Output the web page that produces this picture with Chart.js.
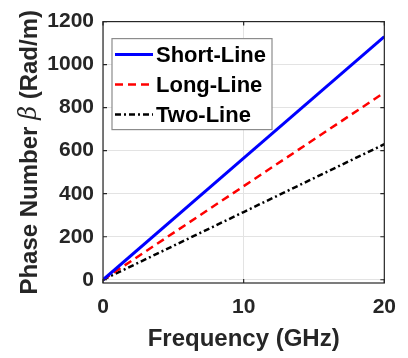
<!DOCTYPE html>
<html><head><meta charset="utf-8">
<script src="https://cdn.jsdelivr.net/npm/chart.js@4"></script>
<style>html,body{margin:0;padding:0;background:#fff}canvas{display:block}</style>
</head><body>
<canvas id="c" width="408" height="358"></canvas>
<script>
const frequencyGHz = [0, 10, 20];
const shortLine = [0, 565, 1130];
const longLine = [0, 435, 870];
const twoLine = [0, 315, 630];
const seriesLabels = ['Short-Line', 'Long-Line', 'Two-Line'];
const yTicks = [0, 200, 400, 600, 800, 1000, 1200];
const xTicks = [0, 10, 20];
const xTitle = 'Frequency (GHz)';
const yTitleParts = ['Phase Number ', 'β', ' (Rad/m)'];

const TXT = '#262626';
const FONT = '"Liberation Sans", Arial, sans-serif';
const toXY = ys => frequencyGHz.map((f, i) => ({x: f, y: ys[i]}));

const boxPlugin = {
  id: 'box',
  afterDatasetsDraw(chart) {
    const {ctx, chartArea: a, scales} = chart;
    ctx.save();
    ctx.strokeStyle = TXT; ctx.lineWidth = 1.2;
    ctx.strokeRect(a.left, a.top, a.right - a.left, a.bottom - a.top);
    const L = 4;
    ctx.beginPath();
    xTicks.forEach(v => { const x = scales.x.getPixelForValue(v);
      ctx.moveTo(x, a.bottom); ctx.lineTo(x, a.bottom - L);
      ctx.moveTo(x, a.top); ctx.lineTo(x, a.top + L); });
    yTicks.forEach(v => { const y = scales.y.getPixelForValue(v);
      ctx.moveTo(a.left, y); ctx.lineTo(a.left + L, y);
      ctx.moveTo(a.right, y); ctx.lineTo(a.right - L, y); });
    ctx.stroke();
    ctx.restore();
  },
  afterDraw(chart) {
    const {ctx, chartArea: a} = chart;
    // legend
    ctx.save();
    const bx = a.left + 9, by = a.top + 17, bw = 160, bh = 91;
    ctx.fillStyle = '#fff'; ctx.fillRect(bx, by, bw, bh);
    ctx.strokeStyle = '#8c8c8c'; ctx.lineWidth = 1.2; ctx.strokeRect(bx, by, bw, bh);
    chart.data.datasets.forEach((ds, i) => {
      const y = by + 16 + i * 30;
      ctx.strokeStyle = ds.borderColor; ctx.lineWidth = ds.borderWidth;
      ctx.setLineDash(ds.borderDash || []);
      ctx.beginPath(); ctx.moveTo(bx + 3, y); ctx.lineTo(bx + 41, y); ctx.stroke();
      ctx.setLineDash([]);
      ctx.fillStyle = '#000'; ctx.font = 'bold 22px ' + FONT;
      ctx.textBaseline = 'middle'; ctx.textAlign = 'left';
      ctx.fillText(ds.label, bx + 44, y + 1);
    });
    ctx.restore();
    // y title
    ctx.save();
    const fonts = ['bold 24px ' + FONT, 'italic 24px "DejaVu Serif", serif', 'bold 24px ' + FONT];
    let total = 0;
    const widths = yTitleParts.map((t, i) => { ctx.font = fonts[i]; const w = ctx.measureText(t).width; total += w; return w; });
    ctx.translate(30, (a.top + a.bottom) / 2);
    ctx.rotate(-Math.PI / 2);
    ctx.fillStyle = TXT; ctx.textBaseline = 'middle'; ctx.textAlign = 'left';
    let x = -total / 2;
    yTitleParts.forEach((t, i) => { ctx.font = fonts[i]; ctx.fillText(t, x, 0); x += widths[i]; });
    ctx.restore();
  }
};

new Chart(document.getElementById('c'), {
  type: 'line',
  data: {
    datasets: [
      {label: seriesLabels[0], data: toXY(shortLine), borderColor: '#0000ff', borderWidth: 3, pointRadius: 0, tension: 0, fill: false},
      {label: seriesLabels[1], data: toXY(longLine), borderColor: '#ff0000', borderWidth: 2.5, borderDash: [8, 5], pointRadius: 0, tension: 0, fill: false},
      {label: seriesLabels[2], data: toXY(twoLine), borderColor: '#000000', borderWidth: 2.5, borderDash: [6, 3, 2, 3], pointRadius: 0, tension: 0, fill: false}
    ]
  },
  options: {
    responsive: false, animation: false, devicePixelRatio: 1,
    layout: {padding: {top: 20, right: 19, left: 0, bottom: 0}},
    plugins: {legend: {display: false}, tooltip: {enabled: false}},
    scales: {
      x: {
        type: 'linear', min: 0, max: 20,
        afterBuildTicks: s => { s.ticks = xTicks.map(v => ({value: v})); },
        afterFit: s => { s.height = 75; },
        grid: {color: '#e3e3e3', drawTicks: false},
        border: {display: false},
        ticks: {padding: 12, color: TXT, font: {family: FONT, weight: 'bold', size: 21}, callback: v => String(v)},
        title: {display: true, text: xTitle, color: TXT, font: {family: FONT, weight: 'bold', size: 24}, padding: {top: 0, bottom: 4}}
      },
      y: {
        type: 'linear', min: -15, max: 1200,
        afterBuildTicks: s => { s.ticks = yTicks.map(v => ({value: v})); },
        afterFit: s => { s.width = 103; },
        grid: {color: '#e3e3e3', drawTicks: false},
        border: {display: false},
        ticks: {padding: 9, color: TXT, font: {family: FONT, weight: 'bold', size: 21}, callback: v => String(v)}
      }
    }
  },
  plugins: [boxPlugin]
});
</script>
</body></html>
